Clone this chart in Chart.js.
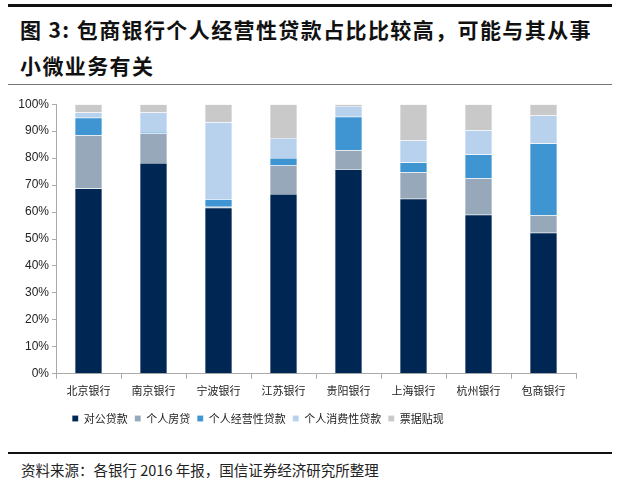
<!DOCTYPE html>
<html>
<head>
<meta charset="utf-8">
<script src="https://cdn.jsdelivr.net/npm/chart.js@4"></script>
<style>
    body { margin: 0; background: #fff; width: 619px; height: 489px; position: relative; overflow: hidden; font-family: "Noto Sans CJK SC", sans-serif; }
    .rule { position: absolute; left: 8px; width: 604px; }
    #title { position: absolute; left: 20px; top: 11px; font-size: 21px; font-weight: bold; line-height: 36px; color: #111; letter-spacing: 1.4px; }
    #source { position: absolute; left: 21px; top: 459px; font-size: 14.5px; color: #222; }
    #wrap { position: absolute; left: 0; top: 94px; width: 600px; height: 340px; }
</style>
</head>
<body>
<div class="rule" style="top:4px;height:3px;background:#111"></div>
<div id="title">图 3: 包商银行个人经营性贷款占比比较高，可能与其从事<br>小微业务有关</div>
<div class="rule" style="top:84px;height:1px;background:#777"></div>
<div id="wrap"><canvas id="loanChart"></canvas></div>
<div class="rule" style="top:452px;height:2px;background:#111"></div>
<div id="source">资料来源：各银行 2016 年报，国信证券经济研究所整理</div>
<script>
const BANKS = ['北京银行', '南京银行', '宁波银行', '江苏银行', '贵阳银行', '上海银行', '杭州银行', '包商银行'];
const CORPORATE = [68.7, 78.2, 61.6, 66.7, 75.9, 64.9, 59.0, 52.3];   // 对公贷款
const MORTGAGE = [19.8, 10.9, 0.4, 10.6, 7.0, 9.9, 13.5, 6.5];       // 个人房贷
const BUSINESS = [6.5, 0.6, 2.7, 2.7, 12.4, 3.6, 8.8, 26.6];         // 个人经营性贷款
const CONSUMER = [1.9, 7.2, 28.6, 7.5, 4.0, 8.1, 9.0, 10.4];         // 个人消费性贷款
const BILLS = [3.1, 3.1, 6.7, 12.5, 0.7, 13.5, 9.7, 4.2];            // 票据贴现
const Y_TICKS = [0, 10, 20, 30, 40, 50, 60, 70, 80, 90, 100];

function series(label, data, color) {
    return {
        label: label,
        data: data,
        backgroundColor: color,
        borderColor: 'rgba(255,255,255,0.35)',
        borderWidth: 0.5,
        barPercentage: 0.42,
        categoryPercentage: 1
    };
}

// the legend in the original sits a bit left of centre
const legendShift = {
    id: 'legendShift',
    beforeDraw: function (chart) {
        chart.legend.right = chart.legend.left + chart.legend.width - 60;
    }
};

const ctx = document.getElementById('loanChart').getContext('2d');
new Chart(ctx, {
    type: 'bar',
    data: {
        labels: BANKS,
        datasets: [
            series('对公贷款', CORPORATE, '#002654'),
            series('个人房贷', MORTGAGE, '#96a8b9'),
            series('个人经营性贷款', BUSINESS, '#3f95d2'),
            series('个人消费性贷款', CONSUMER, '#b8d2ee'),
            series('票据贴现', BILLS, '#c9c9c9')
        ]
    },
    plugins: [legendShift],
    options: {
        responsive: true,
        maintainAspectRatio: false,
        animation: false,
        layout: { padding: { top: 10, right: 24, left: 0, bottom: 0 } },
        plugins: {
            legend: {
                position: 'bottom',
                labels: {
                    boxWidth: 6,
                    boxHeight: 6,
                    padding: 7,
                    color: '#222',
                    font: { family: '"Noto Sans CJK SC"', size: 11 }
                }
            },
            tooltip: { enabled: false }
        },
        scales: {
            x: {
                stacked: true,
                offset: true,
                afterFit: function (scale) { scale.height += 4; },
                grid: {
                    offset: true,
                    drawOnChartArea: false,
                    tickLength: 5,
                    color: '#aaa'
                },
                border: { color: '#aaa' },
                ticks: {
                    color: '#222',
                    padding: 5,
                    font: { family: '"Noto Sans CJK SC"', size: 11 }
                }
            },
            y: {
                stacked: true,
                min: 0,
                max: 100,
                afterFit: function (scale) { scale.width = 56; },
                afterBuildTicks: function (scale) {
                    scale.ticks = Y_TICKS.map(function (v) { return { value: v }; });
                },
                grid: {
                    drawOnChartArea: false,
                    tickLength: 4,
                    color: '#aaa'
                },
                border: { color: '#aaa' },
                ticks: {
                    color: '#222',
                    padding: 3,
                    font: { family: '"Liberation Sans", Arial', size: 12 },
                    callback: function (value) { return value + '%'; }
                }
            }
        }
    }
});
</script>
</body>
</html>
